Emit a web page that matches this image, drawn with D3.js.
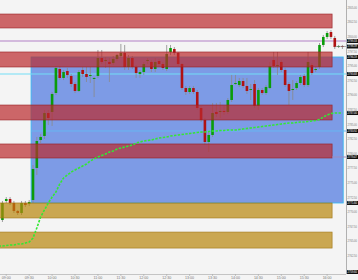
<!DOCTYPE html>
<html>
<head>
<meta charset="utf-8">
<script src="https://cdn.jsdelivr.net/npm/d3@7"></script>
<style>
html, body { margin: 0; padding: 0; background: #f4f4f4; }
svg { display: block; font-family: "Liberation Sans", "DejaVu Sans", sans-serif; }
</style>
</head>
<body>
<div id="chart"></div>
<script>
// ---- data (5 min bars) ----
const opens = [2769.54, 2768.69, 2771.94, 2772.28, 2771.60, 2770.23, 2769.88, 2771.60, 2771.43, 2772.11,
	2777.59, 2782.38, 2783.07, 2787.00, 2787.18, 2790.43, 2794.54, 2793.00, 2794.19, 2793.34,
	2791.97, 2790.77, 2794.37, 2793.68, 2793.34, 2792.83, 2793.34, 2796.42, 2795.91, 2795.74,
	2795.56, 2796.25, 2796.76, 2797.28, 2794.88, 2796.42, 2794.88, 2793.68, 2794.02, 2795.91,
	2795.74, 2794.54, 2795.91, 2795.39, 2794.54, 2797.45, 2797.96, 2797.28, 2795.39, 2791.28,
	2790.60, 2791.28, 2790.60, 2787.86, 2785.81, 2782.04, 2783.24, 2787.18, 2787.18, 2787.35,
	2787.18, 2789.23, 2791.97, 2791.80, 2792.48, 2791.63, 2790.94, 2791.97, 2788.20, 2790.94,
	2790.43, 2791.28, 2796.08, 2795.05, 2795.74, 2794.37, 2791.97, 2790.94, 2791.28, 2792.14,
	2793.34, 2791.80, 2795.22, 2794.37, 2794.88, 2798.65, 2800.02, 2800.87, 2799.84, 2798.39,
	2798.47];
const highs = [2769.88, 2771.94, 2772.62, 2772.62, 2771.94, 2770.40, 2771.94, 2771.94, 2772.11, 2778.10,
	2782.90, 2783.41, 2787.52, 2787.52, 2790.60, 2795.05, 2795.05, 2794.37, 2794.71, 2793.68,
	2792.31, 2794.37, 2794.88, 2794.88, 2794.88, 2793.17, 2797.79, 2797.79, 2796.59, 2796.42,
	2796.76, 2797.11, 2798.82, 2798.65, 2796.93, 2796.76, 2795.22, 2794.37, 2795.74, 2796.42,
	2796.08, 2796.42, 2796.25, 2795.74, 2798.65, 2798.65, 2798.30, 2797.45, 2795.56, 2791.63,
	2791.63, 2791.63, 2790.94, 2788.20, 2786.15, 2783.75, 2788.72, 2788.72, 2788.89, 2788.20,
	2789.57, 2793.51, 2793.51, 2793.00, 2793.00, 2793.00, 2791.97, 2792.65, 2791.28, 2791.28,
	2791.80, 2795.74, 2797.45, 2797.45, 2796.08, 2794.71, 2792.31, 2792.65, 2792.48, 2793.51,
	2793.68, 2797.45, 2795.56, 2794.88, 2798.99, 2800.36, 2801.04, 2801.21, 2800.19, 2798.65,
	2798.65];
const lows = [2768.17, 2768.34, 2771.60, 2771.25, 2769.88, 2769.54, 2769.54, 2770.91, 2771.08, 2771.60,
	2776.39, 2781.87, 2782.55, 2784.95, 2784.78, 2790.09, 2792.65, 2792.65, 2793.00, 2791.46,
	2790.43, 2790.60, 2793.17, 2792.31, 2792.14, 2789.74, 2793.00, 2795.39, 2794.71, 2792.31,
	2795.22, 2795.91, 2796.42, 2794.37, 2794.37, 2794.54, 2793.00, 2793.00, 2793.51, 2795.39,
	2794.02, 2794.02, 2795.05, 2794.37, 2794.19, 2796.93, 2796.93, 2795.05, 2790.94, 2790.09,
	2790.26, 2790.26, 2787.52, 2785.46, 2781.53, 2780.33, 2782.90, 2786.32, 2786.15, 2786.66,
	2786.83, 2788.89, 2791.80, 2791.46, 2791.28, 2790.26, 2789.23, 2787.86, 2787.52, 2790.09,
	2790.09, 2791.11, 2794.71, 2793.51, 2794.02, 2791.46, 2788.37, 2789.23, 2790.94, 2791.80,
	2791.46, 2791.46, 2793.51, 2794.02, 2794.54, 2798.30, 2799.67, 2799.67, 2797.96, 2798.13,
	2797.96];
const closes = [2768.51, 2771.60, 2772.28, 2771.60, 2770.23, 2769.88, 2771.60, 2771.25, 2771.77, 2777.42,
	2782.21, 2782.90, 2787.00, 2786.15, 2790.26, 2794.71, 2793.00, 2794.02, 2793.51, 2791.97,
	2790.77, 2794.02, 2793.68, 2793.17, 2793.51, 2793.00, 2796.42, 2795.74, 2796.08, 2795.39,
	2796.25, 2796.93, 2797.28, 2794.88, 2796.42, 2794.88, 2793.85, 2794.02, 2795.39, 2796.08,
	2794.54, 2795.74, 2795.39, 2794.71, 2797.11, 2798.13, 2797.28, 2795.39, 2791.28, 2790.60,
	2791.28, 2790.60, 2787.86, 2785.81, 2782.04, 2783.24, 2787.00, 2786.83, 2787.35, 2787.18,
	2789.23, 2791.80, 2792.14, 2792.48, 2791.63, 2790.77, 2791.11, 2788.20, 2790.94, 2790.43,
	2791.46, 2795.05, 2795.05, 2795.22, 2794.37, 2791.80, 2790.77, 2791.11, 2792.14, 2793.17,
	2791.80, 2795.74, 2793.85, 2794.54, 2798.65, 2800.02, 2800.70, 2800.02, 2798.30, 2798.47,
	2798.39];
const vwap = [2764.23, 2764.23, 2764.32, 2764.41, 2764.41, 2764.58, 2764.58, 2764.75, 2764.92, 2765.60,
	2767.32, 2769.20, 2770.40, 2771.60, 2772.62, 2773.48, 2774.85, 2775.88, 2776.39, 2776.90,
	2777.25, 2777.59, 2777.93, 2778.27, 2778.79, 2779.13, 2779.47, 2779.73, 2779.99, 2780.33,
	2780.50, 2780.84, 2781.01, 2781.18, 2781.35, 2781.53, 2781.87, 2782.04, 2782.21, 2782.30,
	2782.38, 2782.55, 2782.72, 2782.81, 2782.90, 2783.07, 2783.15, 2783.24, 2783.32, 2783.41,
	2783.49, 2783.58, 2783.67, 2783.75, 2783.75, 2783.84, 2783.92, 2783.92, 2784.01, 2784.01,
	2784.09, 2784.09, 2784.09, 2784.18, 2784.27, 2784.35, 2784.44, 2784.52, 2784.61, 2784.69,
	2784.78, 2784.86, 2784.95, 2785.04, 2785.12, 2785.21, 2785.29, 2785.29, 2785.38, 2785.46,
	2785.46, 2785.55, 2785.63, 2785.72, 2785.89, 2786.32, 2786.66, 2786.92, 2787.00, 2787.00,
	2787.00];

const timeBars = [2, 8, 14, 20, 26, 32, 38, 44, 50, 56, 62, 68, 74, 80, 86];
const timeLabels = ['09:00', '09:30', '10:00', '10:30', '11:00', '11:30', '12:00', '12:30',
	'13:00', '13:30', '14:00', '14:30', '15:00', '15:30', '16:00'];
const priceTicks = [2805, 2802.5, 2800, 2797.5, 2795, 2792.5, 2790, 2787.5, 2785, 2782.5,
	2780, 2777.5, 2775, 2772.5, 2770, 2767.5, 2765, 2762.5];

// supply / demand zones [top, bottom]
const redZones = [[2803.95, 2801.56], [2797.45, 2794.88], [2788.37, 2785.81], [2781.70, 2779.30]];
const goldZones = [[2771.60, 2769.03], [2766.62, 2763.88]];
const zoneEndBar = 87.3;

// range box
const boxTop = 2796.59,
	boxBottom = 2771.60,
	boxStartBar = 8.5,
	boxEndBar = 90.2;

const levelPurple = 2799.33,
	levelCyan = 2793.68,
	levelBlue = 2783.92,
	levelLow = 2779.47,
	levelBottom = 2759.6;

const markerLevels = [levelPurple, 2798.39, boxTop, levelCyan, 2787.00, levelBlue, levelLow, boxBottom, levelBottom];

// ---- layout ----
const outerW = 358,
	outerH = 280,
	plotW = 346,
	plotH = 274;

const svg = d3.select('#chart').append('svg')
	.attr('width', outerW)
	.attr('height', outerH);

svg.append('rect')
	.attr('width', outerW).attr('height', outerH)
	.attr('fill', '#f4f4f4');

const x = d3.scaleLinear().domain([0, 90]).range([-1.38, 342.42]);
const y = d3.scaleLinear().domain([2759.44, 2806.35]).range([plotH, 0]);

svg.append('clipPath').attr('id', 'plotClip')
	.append('rect').attr('width', plotW).attr('height', plotH);

const g = svg.append('g').attr('clip-path', 'url(#plotClip)');

// range box (under the candles)
g.append('rect')
	.attr('x', x(boxStartBar))
	.attr('y', y(boxTop))
	.attr('width', x(boxEndBar) - x(boxStartBar))
	.attr('height', y(boxBottom) - y(boxTop))
	.attr('fill', '#7d9be6')
	.attr('stroke', '#38b8f0')
	.attr('stroke-width', 0.9);

// horizontal levels
g.append('line')
	.attr('x1', x(boxStartBar)).attr('x2', plotW)
	.attr('y1', y(levelBlue)).attr('y2', y(levelBlue))
	.attr('stroke', '#66b6f2').attr('stroke-width', 1);

g.append('line')
	.attr('x1', 0).attr('x2', plotW)
	.attr('y1', y(levelCyan)).attr('y2', y(levelCyan))
	.attr('stroke', '#72def6').attr('stroke-width', 1);

g.append('line')
	.attr('x1', 0).attr('x2', plotW)
	.attr('y1', y(levelPurple)).attr('y2', y(levelPurple))
	.attr('stroke', '#c9a7d6').attr('stroke-width', 1.4);

// candles
const bars = d3.range(opens.length);
const bodyW = 2.6;

g.append('g').selectAll('line')
	.data(bars)
	.enter().append('line')
	.attr('x1', i => x(i)).attr('x2', i => x(i))
	.attr('y1', i => y(highs[i]))
	.attr('y2', i => y(lows[i]))
	.attr('stroke', '#8a8a8a')
	.attr('stroke-width', 0.8);

g.append('g').selectAll('rect')
	.data(bars)
	.enter().append('rect')
	.attr('x', i => x(i) - bodyW / 2)
	.attr('y', i => y(Math.max(opens[i], closes[i])))
	.attr('width', bodyW)
	.attr('height', i => Math.max(0.8, Math.abs(y(opens[i]) - y(closes[i]))))
	.attr('fill', i => closes[i] >= opens[i] ? '#0a9c0a' : '#b01212');

// zones on top
g.append('g').selectAll('rect')
	.data(redZones)
	.enter().append('rect')
	.attr('x', -2)
	.attr('y', d => y(d[0]))
	.attr('width', x(zoneEndBar) + 2)
	.attr('height', d => y(d[1]) - y(d[0]))
	.attr('fill', 'rgba(186,42,44,0.7)')
	.attr('stroke', 'rgba(150,30,34,0.85)')
	.attr('stroke-width', 0.7);

g.append('g').selectAll('rect')
	.data(goldZones)
	.enter().append('rect')
	.attr('x', -2)
	.attr('y', d => y(d[0]))
	.attr('width', x(zoneEndBar) + 2)
	.attr('height', d => y(d[1]) - y(d[0]))
	.attr('fill', 'rgba(184,134,11,0.7)')
	.attr('stroke', 'rgba(160,118,20,0.85)')
	.attr('stroke-width', 0.7);

g.append('line')
	.attr('x1', x(zoneEndBar)).attr('x2', plotW)
	.attr('y1', y(levelLow)).attr('y2', y(levelLow))
	.attr('stroke', '#9d8cc0').attr('stroke-width', 1);

// last price
g.append('line')
	.attr('x1', x(88)).attr('x2', plotW)
	.attr('y1', y(closes[closes.length - 1])).attr('y2', y(closes[closes.length - 1]))
	.attr('stroke', '#777').attr('stroke-width', 0.6);

// vwap
g.append('path')
	.datum(bars)
	.attr('fill', 'none')
	.attr('stroke', '#33e833')
	.attr('stroke-width', 1.6)
	.attr('stroke-dasharray', '2.4,1.4')
	.attr('d', d3.line().x(i => x(i)).y(i => y(vwap[i])));

// axes
svg.append('line')
	.attr('x1', plotW + 0.5).attr('x2', plotW + 0.5)
	.attr('y1', 0).attr('y2', plotH)
	.attr('stroke', '#b0b0b0').attr('stroke-width', 1);

svg.append('line')
	.attr('x1', 0).attr('x2', plotW)
	.attr('y1', plotH + 0.5).attr('y2', plotH + 0.5)
	.attr('stroke', '#c4c4c4').attr('stroke-width', 1);

svg.append('g').selectAll('text')
	.data(priceTicks)
	.enter().append('text')
	.attr('x', plotW + 1.6)
	.attr('y', d => y(d))
	.attr('dy', '0.35em')
	.attr('font-size', 2.6)
	.attr('fill', '#777')
	.text(d => d.toFixed(2));

const marks = svg.append('g').selectAll('g')
	.data(markerLevels)
	.enter().append('g')
	.attr('transform', d => `translate(${plotW + 1}, ${Math.min(y(d), plotH - 2)})`);

marks.append('rect')
	.attr('x', 0).attr('y', -2)
	.attr('width', 11).attr('height', 4)
	.attr('fill', '#111');

marks.append('text')
	.attr('x', 0.6)
	.attr('dy', '0.35em')
	.attr('font-size', 2.6)
	.attr('fill', '#fff')
	.text(d => d.toFixed(2));

svg.append('g').selectAll('line')
	.data(timeBars)
	.enter().append('line')
	.attr('x1', i => x(i)).attr('x2', i => x(i))
	.attr('y1', plotH).attr('y2', plotH + 2)
	.attr('stroke', '#aaa').attr('stroke-width', 0.6);

svg.append('g').selectAll('text')
	.data(timeBars)
	.enter().append('text')
	.attr('x', i => x(i))
	.attr('y', 278.6)
	.attr('text-anchor', 'middle')
	.attr('font-size', 3.6)
	.attr('fill', '#777')
	.text((i, k) => timeLabels[k]);
</script>
</body>
</html>
